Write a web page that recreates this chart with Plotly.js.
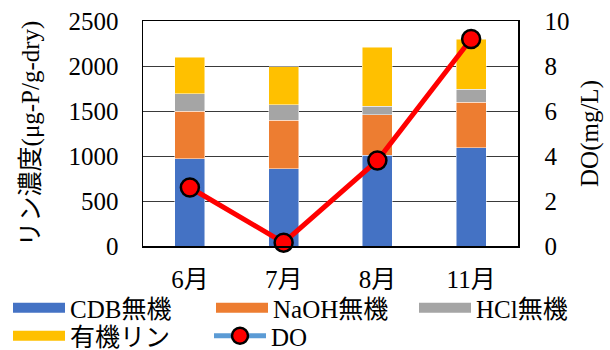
<!DOCTYPE html>
<html>
<head>
<meta charset="utf-8">
<script src="https://cdn.plot.ly/plotly-3.0.1.min.js"></script>
<style>
  html, body { margin: 0; padding: 0; background: #fff; }
  #chart { width: 610px; height: 350px; }
</style>
</head>
<body>
<div id="chart"></div>
<script>
// Sampling months
const months = ['6月', '7月', '8月', '11月'];

// Phosphorus fractions (μg-P/g-dry)
const cdbInorganic = [970, 860, 1010, 1090];
const naohInorganic = [530, 540, 450, 510];
const hclInorganic = [190, 170, 95, 140];
const organicP = [410, 420, 655, 560];

// Dissolved oxygen (mg/L)
const doValues = [2.6, 0.15, 3.8, 9.2];

// Series names and colours
const seriesNames = ['CDB無機', 'NaOH無機', 'HCl無機', '有機リン'];
const seriesColors = ['#4472C4', '#ED7D31', '#A5A5A5', '#FFC000'];
const seriesValues = [cdbInorganic, naohInorganic, hclInorganic, organicP];

const FONT = 'Liberation Serif, Noto Sans CJK JP, serif';
const FS = 25;

const traces = [];

// Stacked bars
seriesValues.forEach((vals, i) => {
  traces.push({
    type: 'bar',
    x: months,
    y: vals,
    name: seriesNames[i],
    marker: { color: seriesColors[i], line: { color: 'rgba(255,255,255,0.6)', width: 0.8 } },
    showlegend: false
  });
});

// DO line on the secondary axis
traces.push({
  type: 'scatter',
  mode: 'lines+markers',
  x: months,
  y: doValues,
  yaxis: 'y2',
  name: 'DO',
  line: { color: '#FF0000', width: 5 },
  marker: { color: '#FF0000', size: 18, line: { color: '#000000', width: 2.5 } },
  showlegend: false,
  cliponaxis: false
});

// Legend entries with wide swatches, one legend box per entry
const legendIds = ['legend', 'legend2', 'legend3', 'legend4'];
seriesValues.forEach((vals, i) => {
  traces.push({
    type: 'scatter',
    mode: 'lines',
    x: [null],
    y: [null],
    name: seriesNames[i],
    legend: legendIds[i],
    line: { color: seriesColors[i], width: 13 }
  });
});
traces.push({
  type: 'scatter',
  mode: 'lines+markers',
  x: [null],
  y: [null],
  yaxis: 'y2',
  name: 'DO',
  legend: 'legend5',
  line: { color: '#5B9BD5', width: 5 },
  marker: { color: '#FF0000', size: 16, line: { color: '#000000', width: 2.5 } }
});

function legendAt(px, py) {
  return {
    orientation: 'h',
    xref: 'container',
    yref: 'container',
    x: px / 610,
    y: 1 - py / 350,
    xanchor: 'left',
    yanchor: 'middle',
    itemwidth: 52,
    font: { family: FONT, size: FS, color: '#000000' },
    bgcolor: 'rgba(0,0,0,0)'
  };
}

const layout = {
  width: 610,
  height: 350,
  margin: { l: 143, r: 92, t: 21, b: 104 },
  paper_bgcolor: '#ffffff',
  plot_bgcolor: '#ffffff',
  barmode: 'stack',
  bargap: 0.68,
  font: { family: FONT, size: FS, color: '#000000' },
  xaxis: {
    type: 'category',
    ticks: '',
    ticklabelstandoff: 10,
    showgrid: false,
    showline: true,
    mirror: true,
    linecolor: '#000000',
    linewidth: 1.5,
    tickfont: { family: FONT, size: FS, color: '#000000' }
  },
  yaxis: {
    range: [0, 2500],
    dtick: 500,
    ticks: '',
    ticklabelstandoff: 18,
    showgrid: true,
    gridcolor: '#3a3a3a',
    gridwidth: 1,
    zeroline: false,
    showline: true,
    linecolor: '#000000',
    linewidth: 1.5,
    tickfont: { family: FONT, size: FS, color: '#000000' },
    title: { text: 'リン濃度(μg-P/g-dry)', font: { family: FONT, size: FS, color: '#000000' }, standoff: 22 }
  },
  yaxis2: {
    overlaying: 'y',
    side: 'right',
    range: [0, 10],
    dtick: 2,
    ticks: '',
    ticklabelstandoff: 20,
    showgrid: false,
    zeroline: false,
    showline: true,
    linecolor: '#000000',
    linewidth: 1.5,
    tickfont: { family: FONT, size: FS, color: '#000000' },
    title: { text: 'DO(mg/L)', font: { family: FONT, size: FS, color: '#000000' }, standoff: 12 }
  },
  showlegend: true,
  legend: legendAt(8, 308),
  legend2: legendAt(211, 308),
  legend3: legendAt(414, 308),
  legend4: legendAt(8, 336),
  legend5: legendAt(209, 336)
};

Plotly.newPlot('chart', traces, layout, { displayModeBar: false, staticPlot: true });
</script>
</body>
</html>
